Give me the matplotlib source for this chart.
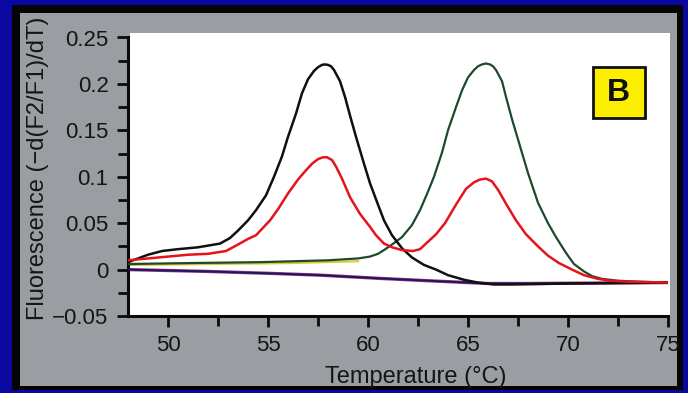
import matplotlib
matplotlib.use("Agg")
import matplotlib.pyplot as plt
from matplotlib.patches import Rectangle
from matplotlib.ticker import MultipleLocator

plt.rcParams['font.family'] = ['Liberation Sans', 'DejaVu Sans']

# ---- data ----
black_T = [48, 49, 49.7, 50.5, 51.5, 52.6, 53.1, 53.5, 54.0, 54.4, 54.9, 55.3, 55.7, 56.0, 56.4,
           56.7, 57.0, 57.3, 57.5, 57.7, 57.85, 58.0, 58.15, 58.3, 58.6, 58.85, 59.1, 59.4, 59.8,
           60.1, 60.5, 60.8, 61.2, 61.7, 62.2, 62.8, 63.4, 64.0, 64.8, 65.5, 66.3, 67.2, 70, 75]
black_v = [0.008, 0.016, 0.020, 0.022, 0.024, 0.028, 0.034, 0.042, 0.053, 0.064, 0.080, 0.100,
           0.122, 0.143, 0.168, 0.190, 0.205, 0.214, 0.218, 0.2205, 0.221, 0.2205, 0.219, 0.215,
           0.203, 0.186, 0.166, 0.143, 0.114, 0.093, 0.070, 0.053, 0.037, 0.023, 0.013, 0.005,
           0.000, -0.006, -0.011, -0.014, -0.016, -0.016, -0.015, -0.014]

green_T = [48, 51, 54.6, 58, 59.5, 60.1, 60.5, 60.8, 61.2, 61.7, 62.2, 62.6, 63.0, 63.3, 63.7,
           64.0, 64.4, 64.7, 65.0, 65.3, 65.5, 65.7, 65.9, 66.1, 66.25, 66.4, 66.7, 66.9, 67.2,
           67.6, 68.0, 68.5, 69.0, 69.4, 69.9, 70.3, 70.8, 71.2, 71.7, 72.5, 73.5, 75]
green_v = [0.006, 0.007, 0.008, 0.010, 0.012, 0.014, 0.017, 0.021, 0.027, 0.035, 0.048, 0.064,
           0.084, 0.100, 0.126, 0.150, 0.175, 0.193, 0.207, 0.215, 0.219, 0.221, 0.222, 0.221,
           0.219, 0.215, 0.203, 0.186, 0.162, 0.133, 0.104, 0.072, 0.050, 0.035, 0.018, 0.006,
           -0.002, -0.007, -0.010, -0.012, -0.013, -0.014]

yellow_T = [48, 52, 56, 59.5]
yellow_v = [0.005, 0.006, 0.007, 0.009]

red_T = [48, 49, 50, 51, 52, 52.9, 53.5, 54.0, 54.4, 55.1, 55.5, 56.0, 56.5, 56.9, 57.2, 57.5,
         57.75, 57.95, 58.2, 58.4, 58.7, 59.1, 59.6, 60.1, 60.4, 60.8, 61.2, 61.7, 62.25, 62.6,
         62.9, 63.4, 63.85, 64.4, 64.9, 65.3, 65.6, 65.9, 66.2, 66.5, 66.9, 67.4, 67.9, 68.5,
         69.0, 69.55, 70.2, 70.8, 71.5, 72.1, 73, 75]
red_v = [0.010, 0.012, 0.014, 0.016, 0.017, 0.020, 0.027, 0.033, 0.037, 0.053, 0.065, 0.082,
         0.097, 0.107, 0.114, 0.119, 0.121, 0.121, 0.118, 0.111, 0.098, 0.078, 0.060, 0.046,
         0.037, 0.028, 0.024, 0.021, 0.020, 0.022, 0.028, 0.038, 0.050, 0.070, 0.087, 0.094,
         0.097, 0.098, 0.095, 0.086, 0.071, 0.053, 0.038, 0.025, 0.015, 0.007, 0.000, -0.006,
         -0.010, -0.012, -0.013, -0.014]

blue_T = [48, 52, 55, 57.6, 60.6, 63, 66, 68, 75]
blue_v = [0.000, -0.002, -0.004, -0.006, -0.0095, -0.012, -0.015, -0.015, -0.014]

x_ticks = [50, 55, 60, 65, 70, 75]
y_ticks = [-0.05, 0, 0.05, 0.1, 0.15, 0.2, 0.25]
y_tick_labels = ['\u22120.05', '0', '0.05', '0.1', '0.15', '0.2', '0.25']

# ---- figure ----
W, H = 688, 393
def fx(px):
    return px / W
def fy(py):
    return 1 - py / H

fig = plt.figure(figsize=(W / 100, H / 100), dpi=100, facecolor='#0a08a0')
fig.add_artist(Rectangle((fx(12), fy(390)), fx(671), 385 / H, transform=fig.transFigure,
                         facecolor='#050505', edgecolor='none', zorder=-3))
fig.add_artist(Rectangle((fx(20), fy(386)), fx(657), 373 / H, transform=fig.transFigure,
                         facecolor='#9a9da1', edgecolor='none', zorder=-2))
# white plotting panel (slightly larger than the axes, as on the scan)
fig.add_artist(Rectangle((fx(130), fy(316)), fx(540), 283 / H, transform=fig.transFigure,
                         facecolor='white', edgecolor='none', zorder=-1))

ax = fig.add_axes([fx(128), fy(316), fx(540), 278.5 / H])
ax.set_facecolor('white')

ax.plot(blue_T, blue_v, color='#a03090', lw=2.4, solid_capstyle='butt', zorder=2)
ax.plot(blue_T, blue_v, color='#1a1a55', lw=1.4, zorder=3)
ax.plot(yellow_T, yellow_v, color='#d8cc30', lw=1.6, zorder=2)
ax.plot(green_T, green_v, color='#1d4a2c', lw=1.6, zorder=3)
ax.plot(black_T, black_v, color='#101010', lw=1.8, zorder=4)
ax.plot(red_T, red_v, color='#e4141a', lw=1.8, zorder=5)

ax.set_xlim(48, 75)
ax.set_ylim(-0.05, 0.25)
ax.set_xticks(x_ticks)
ax.set_yticks(y_ticks)
ax.set_yticklabels(y_tick_labels)
ax.xaxis.set_minor_locator(MultipleLocator(2.5))
ax.yaxis.set_minor_locator(MultipleLocator(0.025))

for s in ['top', 'right']:
    ax.spines[s].set_visible(False)
for s in ['left', 'bottom']:
    ax.spines[s].set_linewidth(2.2)
    ax.spines[s].set_color('#0a0a0a')

ax.tick_params(axis='both', which='major', direction='out', length=8, width=2,
               labelsize=16, colors='#0a0a0a', labelcolor='#151515', pad=6)
ax.tick_params(axis='both', which='minor', direction='out', length=7, width=2,
               colors='#0a0a0a')
ax.tick_params(axis='x', which='major', pad=6)

fig.text(fx(416), fy(383), 'Temperature (°C)', fontsize=17, color='#151515',
         ha='center', va='baseline')
fig.text(fx(38), fy(168), 'Fluorescence (\u2212d(F2/F1)/dT)', fontsize=17, color='#151515',
         ha='center', va='center', rotation=90)

ax.add_patch(Rectangle((0.861, 0.711), 0.0963, 0.183, transform=ax.transAxes,
                       facecolor='#fcee00', edgecolor='#111111', lw=2, zorder=6))
ax.text(0.909, 0.802, 'B', transform=ax.transAxes, ha='center', va='center',
        fontsize=23, fontweight='bold', color='#111111', zorder=7)

fig.savefig('out.png', dpi=100, facecolor=fig.get_facecolor())
